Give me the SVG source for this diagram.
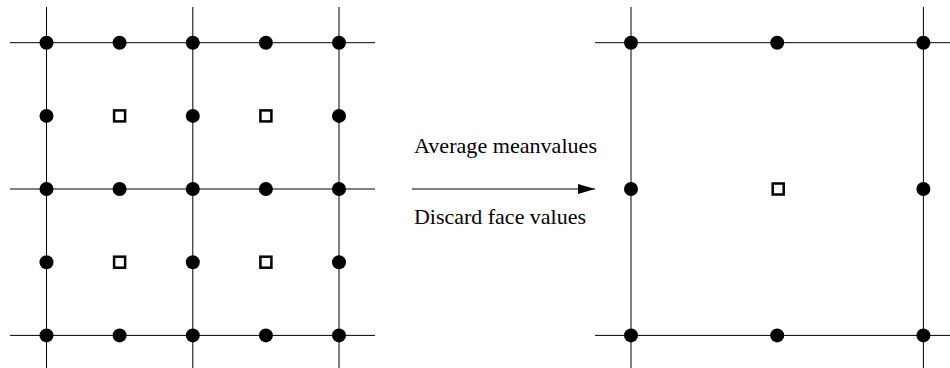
<svg xmlns="http://www.w3.org/2000/svg" width="950" height="368" viewBox="0 0 950 368">
<style>
.grid{stroke:#000;stroke-width:1;fill:none}
.dot{fill:#000}
.face{fill:#fff;stroke:#000;stroke-width:2.5}
.lbl{font-family:"Liberation Serif","Times New Roman",serif;font-size:21px;fill:#000}
.conn{stroke:#000;stroke-width:1;fill:none}
</style>
<defs>
<marker id="ah" markerWidth="17" markerHeight="10" refX="17" refY="5" orient="auto" markerUnits="userSpaceOnUse">
<path d="M0,0 L17,5 L0,10 Z" fill="#000"/>
</marker>
</defs>
<g id="left-grid-lines" class="grid">
<line x1="10" y1="42.7" x2="375" y2="42.7"/>
<line x1="10" y1="189" x2="375" y2="189"/>
<line x1="10" y1="335.4" x2="375" y2="335.4"/>
<line x1="46.5" y1="7" x2="46.5" y2="368"/>
<line x1="192.8" y1="7" x2="192.8" y2="368"/>
<line x1="339" y1="7" x2="339" y2="368"/>
</g>
<g id="right-grid-lines" class="grid">
<line x1="595" y1="42.7" x2="950" y2="42.7"/>
<line x1="595" y1="335.4" x2="950" y2="335.4"/>
<line x1="631" y1="7" x2="631" y2="368"/>
<line x1="923.4" y1="7" x2="923.4" y2="368"/>
</g>
<g id="left-nodes">
<g id="L00"><circle class="dot" cx="46.5" cy="42.7" r="7"/></g>
<g id="L01"><circle class="dot" cx="119.6" cy="42.7" r="7"/></g>
<g id="L02"><circle class="dot" cx="192.8" cy="42.7" r="7"/></g>
<g id="L03"><circle class="dot" cx="265.9" cy="42.7" r="7"/></g>
<g id="L04"><circle class="dot" cx="339" cy="42.7" r="7"/></g>
<g id="L10"><circle class="dot" cx="46.5" cy="115.9" r="7"/></g>
<g id="L11"><rect class="face" x="114.1" y="110.4" width="11" height="11"/></g>
<g id="L12"><circle class="dot" cx="192.8" cy="115.9" r="7"/></g>
<g id="L13"><rect class="face" x="260.4" y="110.4" width="11" height="11"/></g>
<g id="L14"><circle class="dot" cx="339" cy="115.9" r="7"/></g>
<g id="L20"><circle class="dot" cx="46.5" cy="189" r="7"/></g>
<g id="L21"><circle class="dot" cx="119.6" cy="189" r="7"/></g>
<g id="L22"><circle class="dot" cx="192.8" cy="189" r="7"/></g>
<g id="L23"><circle class="dot" cx="265.9" cy="189" r="7"/></g>
<g id="L24"><circle class="dot" cx="339" cy="189" r="7"/></g>
<g id="L30"><circle class="dot" cx="46.5" cy="262.2" r="7"/></g>
<g id="L31"><rect class="face" x="114.1" y="256.7" width="11" height="11"/></g>
<g id="L32"><circle class="dot" cx="192.8" cy="262.2" r="7"/></g>
<g id="L33"><rect class="face" x="260.4" y="256.7" width="11" height="11"/></g>
<g id="L34"><circle class="dot" cx="339" cy="262.2" r="7"/></g>
<g id="L40"><circle class="dot" cx="46.5" cy="335.4" r="7"/></g>
<g id="L41"><circle class="dot" cx="119.6" cy="335.4" r="7"/></g>
<g id="L42"><circle class="dot" cx="192.8" cy="335.4" r="7"/></g>
<g id="L43"><circle class="dot" cx="265.9" cy="335.4" r="7"/></g>
<g id="L44"><circle class="dot" cx="339" cy="335.4" r="7"/></g>
</g>
<g id="right-nodes">
<g id="R00"><circle class="dot" cx="631" cy="42.7" r="7"/></g>
<g id="R01"><circle class="dot" cx="777.2" cy="42.7" r="7"/></g>
<g id="R02"><circle class="dot" cx="923.4" cy="42.7" r="7"/></g>
<g id="R10"><circle class="dot" cx="631" cy="189" r="7"/></g>
<g id="R11"><rect class="face" x="772.7" y="183.5" width="11" height="11"/></g>
<g id="R12"><circle class="dot" cx="923.4" cy="189" r="7"/></g>
<g id="R20"><circle class="dot" cx="631" cy="335.4" r="7"/></g>
<g id="R21"><circle class="dot" cx="777.2" cy="335.4" r="7"/></g>
<g id="R22"><circle class="dot" cx="923.4" cy="335.4" r="7"/></g>
</g>
<g id="connectors">
<line class="conn" x1="412" y1="189" x2="595" y2="189" marker-end="url(#ah)"/>
</g>
<g id="labels">
<text class="lbl" x="414" y="153.3" textLength="183" lengthAdjust="spacingAndGlyphs">Average meanvalues</text>
<text class="lbl" x="414" y="223.8" textLength="172" lengthAdjust="spacingAndGlyphs">Discard face values</text>
</g>
</svg>
